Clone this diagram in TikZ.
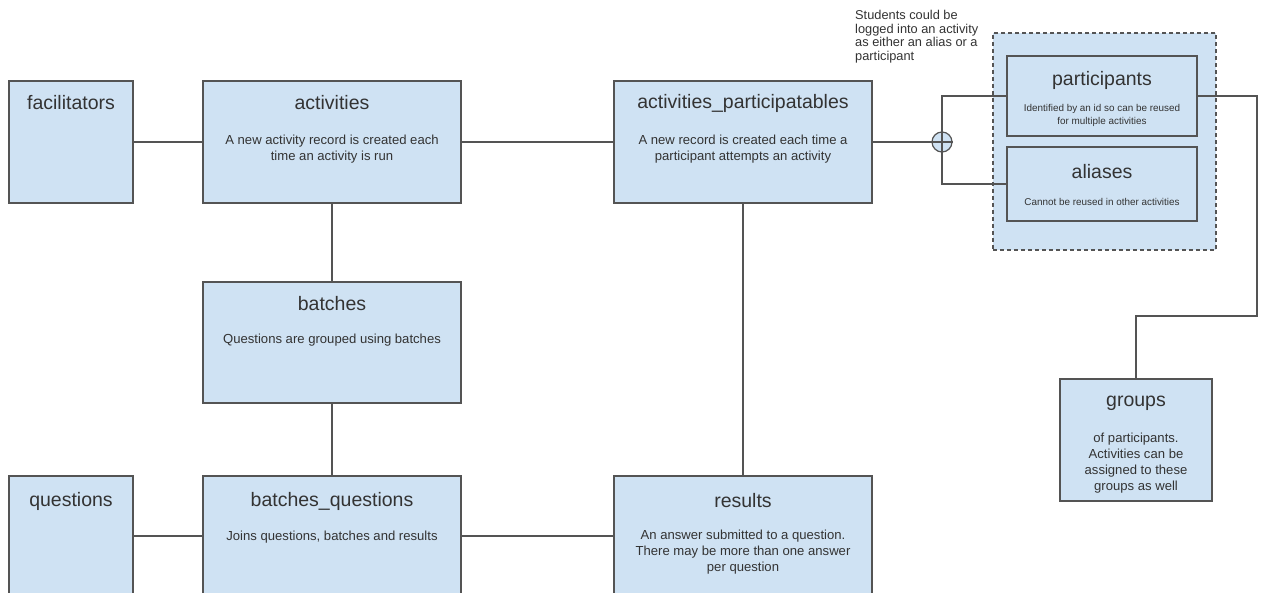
\documentclass[tikz,border=0pt]{standalone}
\usepackage{fontspec}
\setmainfont{Liberation Sans}
\usetikzlibrary{calc}
\definecolor{boxfill}{HTML}{CFE2F3}
\definecolor{linec}{HTML}{545454}
\definecolor{txt}{HTML}{333333}
\begin{document}
\begin{tikzpicture}[x=1pt,y=-1pt,
  entity/.style={draw=linec, fill=boxfill, line width=1.3pt, inner sep=0pt, minimum width=#1},
  entity/.default=258,
  grp/.style={draw=linec, fill=boxfill, line width=1.1pt, dash pattern=on 4pt off 3pt, inner sep=0pt},
  title/.style={text=txt, font=\fontsize{19.5}{22}\selectfont, inner sep=0pt},
  desc/.style={text=txt, font=\fontsize{13.1}{16}\selectfont, align=center, inner sep=0pt},
  small/.style={text=txt, font=\fontsize{9.9}{12.8}\selectfont, align=center, inner sep=0pt},
  note/.style={text=txt, font=\fontsize{12.8}{13.4}\selectfont, align=left, inner sep=0pt},
  conn/.style={draw=linec, line width=1.2pt},
  xor/.style={circle, draw=linec, fill=boxfill, line width=1.2pt, minimum size=20pt, inner sep=0pt}
]
\path[use as bounding box, clip] (0,0) rectangle (1263,593);
\fill[white] (0,0) rectangle (1263,593);

\coordinate (xc) at (942,142);

% boxes
\node[entity=124, minimum height=122pt] (fac) at (71,142) {};
\node[entity, minimum height=122pt] (act) at (332,142) {};
\node[entity, minimum height=122pt] (ap) at (743,142) {};
\node[entity, minimum height=121pt] (bat) at (332,342.5) {};
\node[entity=124, minimum height=134pt] (que) at (71,543) {};
\node[entity, minimum height=134pt] (bq) at (332,543) {};
\node[entity, minimum height=134pt] (res) at (743,543) {};
\node[grp, minimum width=223pt, minimum height=217pt] (sg) at (1104.5,141.5) {};
\node[entity=190, minimum height=80pt] (par) at (1102,96) {};
\node[entity=190, minimum height=74pt] (ali) at (1102,184) {};
\node[entity=152, minimum height=122pt] (grps) at (1136,440) {};

% connectors
\draw[conn] (fac.east) -- (act.west);
\draw[conn] (act.east) -- (ap.west);
\draw[conn] (act.south) -- (bat.north);
\draw[conn] (bat.south) -- (bq.north);
\draw[conn] (que.east |- 0,536) -- (bq.west |- 0,536);
\draw[conn] (bq.east |- 0,536) -- (res.west |- 0,536);
\draw[conn] (ap.south) -- (res.north);
\node[xor] (x) at (xc) {};
\draw[conn] (ap.east) -- (x.east);
\draw[conn] (par.west) -| (x.center) |- (ali.west);
\coordinate (r1) at (1257,96);
\coordinate (r2) at (1257,316);
\coordinate (r3) at (1136,316);
\draw[conn] (par.east) -- (r1) -- (r2) -- (r3) -- (grps.north);

% texts
\node[title] (tfac) at (71,103) {facilitators};
\node[title] (tact) at (332,103) {activities};
\node[desc] (dact) at (332,149) {A new activity record is created each\\time an activity is run};
\node[title] (tap) at (743,103) {activities\_participatables};
\node[desc] (dap) at (743,149) {A new record is created each time a\\participant attempts an activity};
\node[title] (tbat) at (332,304) {batches};
\node[desc] (dbat) at (332,340) {Questions are grouped using batches};
\node[title] (tque) at (71,501) {questions};
\node[title] (tbq) at (332,501) {batches\_questions};
\node[desc] (dbq) at (332,537) {Joins questions, batches and results};
\node[title] (tres) at (743,501) {results};
\node[desc] (dres) at (743,552) {An answer submitted to a question.\\There may be more than one answer\\per question};
\node[title] (tpar) at (1102,80) {participants};
\node[small] (dpar) at (1102,115.5) {Identified by an id so can be reused\\for multiple activities};
\node[title] (tali) at (1102,172) {aliases};
\node[small] (dali) at (1102,202) {Cannot be reused in other activities};
\node[title] (tgrp) at (1136,403) {groups};
\node[desc] (dgrp) at (1136,463.5) {of participants.\\Activities can be\\assigned to these\\groups as well};
\node[note, anchor=north west] (nstu) at (855,10.5) {Students could be\\logged into an activity\\as either an alias or a\\participant};
\end{tikzpicture}
\end{document}
